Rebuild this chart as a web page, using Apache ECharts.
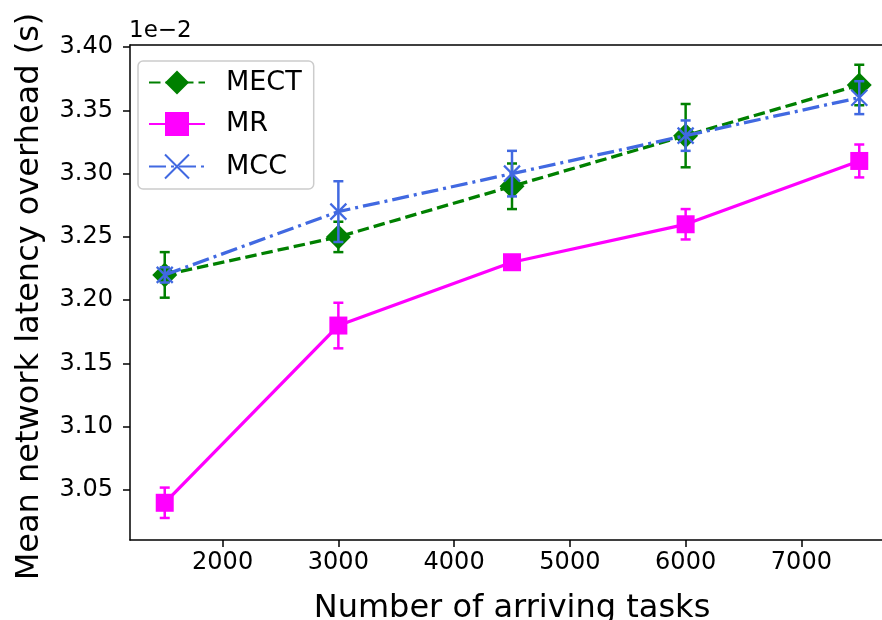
<!DOCTYPE html>
<html>
<head>
<meta charset="utf-8">
<script src="https://cdn.jsdelivr.net/npm/echarts@6/dist/echarts.min.js"></script>
<style>html,body{margin:0;padding:0;background:#fff}#c{width:882px;height:620px}</style>
</head>
<body>
<div id="c"></div>
<script>
const tasks = [1500, 3000, 4500, 6000, 7500];
const mect = [3.22, 3.25, 3.29, 3.33, 3.37];
const mectErr = [0.018, 0.012, 0.018, 0.025, 0.016];
const mr = [3.04, 3.18, 3.23, 3.26, 3.31];
const mrErr = [0.012, 0.018, 0.004, 0.012, 0.013];
const mcc = [3.22, 3.27, 3.30, 3.33, 3.36];
const mccErr = [0.006, 0.024, 0.018, 0.012, 0.013];
const xTicks = [2000, 3000, 4000, 5000, 6000, 7000];
const yTicks = [3.05, 3.10, 3.15, 3.20, 3.25, 3.30, 3.35, 3.40];

const FONT = 'DejaVu Sans';
const C_MECT = '#008000', C_MR = '#ff00ff', C_MCC = '#4169e1';

function pairs(ys) { return tasks.map((x, i) => [x, ys[i]]); }
function errData(ys, es) { return tasks.map((x, i) => [x, ys[i] - es[i], ys[i] + es[i]]); }
function errSeries(ys, es, color, z) {
  return {
    type: 'custom', z: z, silent: true,
    data: errData(ys, es),
    encode: { x: 0, y: [1, 2] },
    renderItem: function (params, api) {
      const lo = api.coord([api.value(0), api.value(1)]);
      const hi = api.coord([api.value(0), api.value(2)]);
      const cw = 5;
      const st = { stroke: color, lineWidth: 2.5 };
      return { type: 'group', children: [
        { type: 'line', shape: { x1: lo[0], y1: lo[1], x2: hi[0], y2: hi[1] }, style: st },
        { type: 'line', shape: { x1: lo[0] - cw, y1: lo[1], x2: lo[0] + cw, y2: lo[1] }, style: st },
        { type: 'line', shape: { x1: hi[0] - cw, y1: hi[1], x2: hi[0] + cw, y2: hi[1] }, style: st }
      ]};
    }
  };
}

const chart = echarts.init(document.getElementById('c'), null, { renderer: 'canvas' });
chart.setOption({
  animation: false,
  backgroundColor: '#fff',
  title: { text: '1e\u22122', left: 124, top: 15, textStyle: { fontFamily: FONT, fontSize: 23, fontWeight: 'normal', color: '#000' } },
  grid: { left: 130, top: 45, width: 764, height: 495, show: false, outerBoundsMode: 'none', containLabel: false },
  legend: {
    orient: 'vertical', left: 138, top: 61,
    data: ['MECT', 'MR', 'MCC'],
    itemWidth: 56, itemHeight: 30, itemGap: 14.5,
    padding: [8, 12, 8, 10],
    borderColor: '#cccccc', borderWidth: 1.5, borderRadius: 5,
    backgroundColor: 'rgba(255,255,255,0.8)',
    textStyle: { fontFamily: FONT, fontSize: 27, color: '#000', padding: [0, 0, 0, 16] }
  },
  xAxis: [{
    type: 'value', min: 1200, max: 7800,
    name: 'Number of arriving tasks', nameLocation: 'middle', nameGap: 53,
    nameTextStyle: { fontFamily: FONT, fontSize: 32, color: '#000' },
    axisLine: { show: true, lineStyle: { color: '#000', width: 1.5 } },
    axisTick: { show: true, length: 7, lineStyle: { color: '#000', width: 1.5 }, customValues: xTicks },
    axisLabel: { fontFamily: FONT, fontSize: 24, color: '#000', margin: 11, customValues: xTicks, formatter: v => String(v) },
    splitLine: { show: false }
  }, {
    type: 'value', position: 'top', min: 1200, max: 7800,
    axisLine: { show: true, onZero: false, lineStyle: { color: '#000', width: 1.5 } },
    axisTick: { show: false }, axisLabel: { show: false }, splitLine: { show: false }
  }],
  yAxis: {
    type: 'value', min: 3.0106, max: 3.4016,
    name: 'Mean network latency overhead (s)', nameLocation: 'middle', nameGap: 84,
    nameTextStyle: { fontFamily: FONT, fontSize: 32, color: '#000', padding: [0, 8, 0, 0] },
    axisLine: { show: true, lineStyle: { color: '#000', width: 1.5 } },
    axisTick: { show: true, length: 7, lineStyle: { color: '#000', width: 1.5 }, customValues: yTicks },
    axisLabel: { fontFamily: FONT, fontSize: 24, color: '#000', margin: 17, customValues: yTicks, formatter: v => v.toFixed(2) },
    splitLine: { show: false }
  },
  series: [
    { name: 'MECT', type: 'line', z: 3, data: pairs(mect), symbol: 'diamond', symbolSize: 25,
      lineStyle: { color: C_MECT, width: 3.3, type: [11.5, 5] },
      itemStyle: { color: C_MECT } },
    errSeries(mect, mectErr, C_MECT, 4),
    { name: 'MR', type: 'line', z: 5, data: pairs(mr), symbol: 'rect', symbolSize: 18,
      lineStyle: { color: C_MR, width: 3.3 },
      itemStyle: { color: C_MR } },
    errSeries(mr, mrErr, C_MR, 6),
    { name: 'MCC', type: 'line', z: 7, data: pairs(mcc), symbol: 'path://M0,0L10,10M10,0L0,10', symbolSize: 16,
      lineStyle: { color: C_MCC, width: 3.3, type: [17, 5, 3, 5] },
      itemStyle: { color: 'none', borderColor: C_MCC, borderWidth: 2.2 } },
    errSeries(mcc, mccErr, C_MCC, 8)
  ]
});
</script>
</body>
</html>
